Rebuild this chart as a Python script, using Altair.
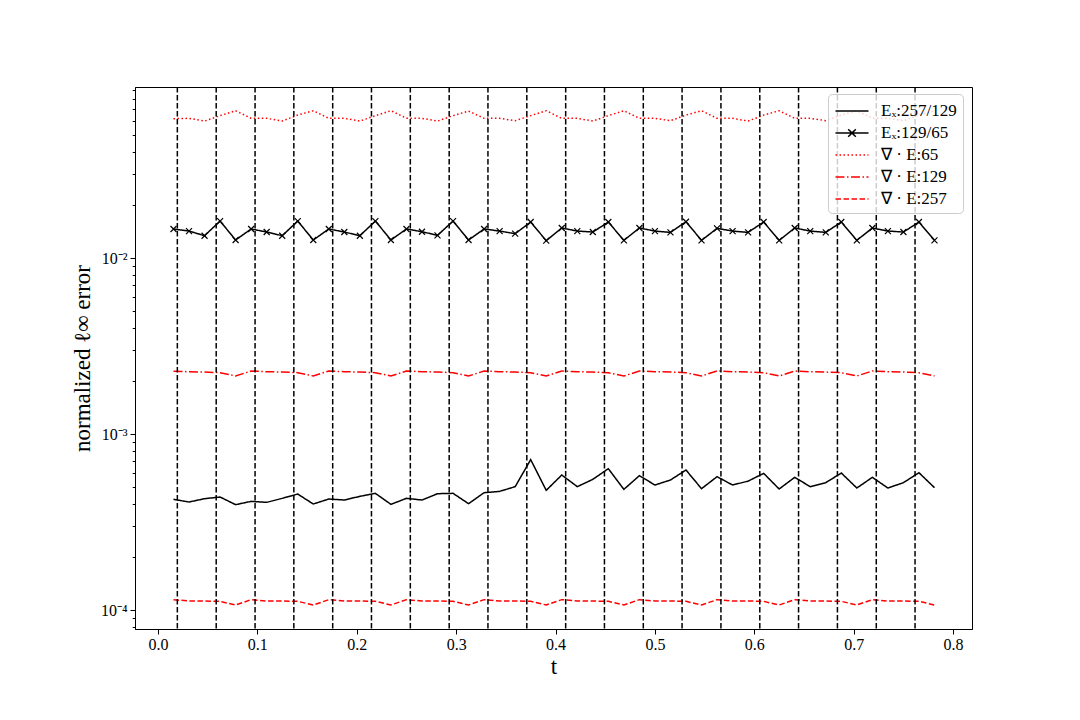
import altair as alt
import pandas as pd

FONT = "Liberation Serif"

# time samples
t = [0.015625, 0.03125, 0.046875, 0.0625, 0.078125, 0.09375, 0.109375, 0.125, 0.140625, 0.15625,
     0.171875, 0.1875, 0.203125, 0.21875, 0.234375, 0.25, 0.265625, 0.28125, 0.296875, 0.3125,
     0.328125, 0.34375, 0.359375, 0.375, 0.390625, 0.40625, 0.421875, 0.4375, 0.453125, 0.46875,
     0.484375, 0.5, 0.515625, 0.53125, 0.546875, 0.5625, 0.578125, 0.59375, 0.609375, 0.625,
     0.640625, 0.65625, 0.671875, 0.6875, 0.703125, 0.71875, 0.734375, 0.75, 0.765625, 0.78125]

ex_257_129 = [0.0004254, 0.0004108, 0.0004291, 0.0004385, 0.0003967,
              0.0004144, 0.0004090, 0.0004309, 0.0004560, 0.0004002,
              0.0004272, 0.0004217, 0.0004424, 0.0004601, 0.0003985,
              0.0004309, 0.0004217, 0.0004581, 0.0004601, 0.0004019,
              0.0004641, 0.0004722, 0.0005021, 0.0007150, 0.0004785,
              0.0005848, 0.0005021, 0.0005526, 0.0006353, 0.0004848,
              0.0005799, 0.0005131, 0.0005479, 0.0006243, 0.0004891,
              0.0005723, 0.0005131, 0.0005400, 0.0005977, 0.0004870,
              0.0005673, 0.0005021, 0.0005291, 0.0006003, 0.0004934,
              0.0005673, 0.0004934, 0.0005291, 0.0006029, 0.0004955]

ex_129_65 = [0.01462, 0.01423, 0.01339, 0.01622, 0.01266,
             0.01462, 0.01405, 0.01339, 0.01622, 0.01266,
             0.01462, 0.01405, 0.01339, 0.01622, 0.01266,
             0.01462, 0.01411, 0.01345, 0.01622, 0.01266,
             0.01462, 0.01423, 0.01375, 0.01601, 0.01255,
             0.01481, 0.01423, 0.01405, 0.01601, 0.01260,
             0.01481, 0.01423, 0.01399, 0.01608, 0.01260,
             0.01474, 0.01423, 0.01399, 0.01601, 0.01260,
             0.01481, 0.01423, 0.01399, 0.01601, 0.01260,
             0.01481, 0.01423, 0.01405, 0.01601, 0.01260]

div_65 = [0.0619, 0.0622, 0.0600, 0.0644, 0.0687,
          0.0622, 0.0622, 0.0600, 0.0649, 0.0687,
          0.0622, 0.0622, 0.0600, 0.0644, 0.0687,
          0.0622, 0.0622, 0.0600, 0.0644, 0.0684,
          0.0622, 0.0622, 0.0603, 0.0644, 0.0687,
          0.0622, 0.0622, 0.0600, 0.0644, 0.0687,
          0.0622, 0.0622, 0.0603, 0.0649, 0.0687,
          0.0622, 0.0622, 0.0600, 0.0649, 0.0687,
          0.0622, 0.0622, 0.0603, 0.0649, 0.0687,
          0.0622, 0.0622, 0.0603, 0.0649, 0.0687]

div_129 = [0.002270, 0.002260, 0.002250, 0.002231, 0.002136,
           0.002280, 0.002260, 0.002250, 0.002231, 0.002136,
           0.002280, 0.002260, 0.002250, 0.002231, 0.002136,
           0.002280, 0.002260, 0.002250, 0.002231, 0.002136,
           0.002280, 0.002260, 0.002250, 0.002231, 0.002136,
           0.002280, 0.002260, 0.002250, 0.002231, 0.002136,
           0.002280, 0.002260, 0.002250, 0.002231, 0.002136,
           0.002280, 0.002260, 0.002250, 0.002231, 0.002136,
           0.002280, 0.002260, 0.002250, 0.002231, 0.002136,
           0.002280, 0.002260, 0.002250, 0.002231, 0.002136]

div_257 = [0.0001145, 0.0001125, 0.0001125, 0.0001120, 0.0001068,
           0.0001145, 0.0001125, 0.0001125, 0.0001120, 0.0001068,
           0.0001145, 0.0001125, 0.0001125, 0.0001120, 0.0001068,
           0.0001145, 0.0001125, 0.0001125, 0.0001120, 0.0001068,
           0.0001145, 0.0001125, 0.0001125, 0.0001120, 0.0001068,
           0.0001145, 0.0001125, 0.0001125, 0.0001120, 0.0001068,
           0.0001145, 0.0001125, 0.0001125, 0.0001120, 0.0001068,
           0.0001145, 0.0001125, 0.0001125, 0.0001120, 0.0001068,
           0.0001145, 0.0001125, 0.0001125, 0.0001120, 0.0001068,
           0.0001145, 0.0001125, 0.0001125, 0.0001120, 0.0001068]

vlines_t = [0.0195, 0.0586, 0.0977, 0.1367, 0.1758, 0.2148, 0.2539, 0.2930, 0.3320, 0.3711,
            0.4102, 0.4492, 0.4883, 0.5273, 0.5664, 0.6055, 0.6445, 0.6836, 0.7227, 0.7617]

series_names = ["Eₓ:257/129", "Eₓ:129/65", "∇ · E:65", "∇ · E:129", "∇ · E:257"]
series_colors = ["#000000", "#000000", "#ff0000", "#ff0000", "#ff0000"]
series_dashes = [[1, 0], [1, 0], [1.5, 2.5], [9, 2.5, 1.5, 2.5], [5.5, 2.5]]
series_values = [ex_257_129, ex_129_65, div_65, div_129, div_257]
marker_series = "Eₓ:129/65"

x_ticks = [0.0, 0.1, 0.2, 0.3, 0.4, 0.5, 0.6, 0.7, 0.8]
x_domain = [-0.0231, 0.819]
y_domain = [7.8e-5, 0.0937]
y_major = [0.0001, 0.001, 0.01]
y_major_labels = ["10⁻⁴", "10⁻³", "10⁻²"]
y_minor = [8e-5, 9e-5,
           0.0002, 0.0003, 0.0004, 0.0005, 0.0006, 0.0007, 0.0008, 0.0009,
           0.002, 0.003, 0.004, 0.005, 0.006, 0.007, 0.008, 0.009,
           0.02, 0.03, 0.04, 0.05, 0.06, 0.07, 0.08, 0.09]

rows = []
for name, vals in zip(series_names, series_values):
    for ti, v in zip(t, vals):
        rows.append({"t": ti, "err": v, "series": name})
df = pd.DataFrame(rows)
df_markers = df[df["series"] == marker_series]
df_vlines = pd.DataFrame({"t": vlines_t})

major_test = " || ".join(f"datum.value == {v}" for v in y_major)
label_expr = " : ".join(f"datum.value == {v} ? '{l}'" for v, l in zip(y_major, y_major_labels)) + " : ''"

x_scale = alt.Scale(domain=x_domain, nice=False, zero=False)
y_scale = alt.Scale(type="log", domain=y_domain, nice=False)

x_axis = alt.Axis(values=x_ticks, format=".1f", title="t", grid=False, tickSize=5,
                  labelFlush=False, labelPadding=2, titleFontSize=23, titleFont=FONT,
                  titleFontWeight="normal", titleY=37, titleBaseline="middle")
y_axis = alt.Axis(values=sorted(y_major + y_minor), labelExpr=label_expr, title="normalized ℓ∞ error",
                  grid=False, labelOverlap=False, labelFlush=False, labelPadding=3,
                  tickSize={"condition": {"test": major_test, "value": 5}, "value": 2.8},
                  titleFontSize=23, titleFont=FONT, titleFontWeight="normal",
                  titleX=-53, titleY=271, titleAngle=-90, titleBaseline="middle", titleAlign="center")

line_path = "M-1.65,0H1.65"
cross_path = "M-1.65,0H1.65M-0.38,-0.38L0.38,0.38M-0.38,0.38L0.38,-0.38"
legend_shapes = [line_path, cross_path, line_path, line_path, line_path]

legend = alt.Legend(title=None, orient="none", legendX=693, legendY=7, padding=6,
                    fillColor="rgba(255,255,255,0.8)", strokeColor="#cccccc", cornerRadius=4,
                    labelFont=FONT, labelFontSize=17, labelColor="black", labelLimit=400,
                    symbolSize=400, symbolStrokeWidth=1.5, symbolOffset=7, labelOffset=18,
                    rowPadding=3, symbolOpacity=1)

color_scale = alt.Scale(domain=series_names, range=series_colors)
dash_scale = alt.Scale(domain=series_names, range=series_dashes)

# invisible layer that carries the legend (line + marker symbols); first so its legend wins
legend_layer = alt.Chart(df).mark_point(filled=False, opacity=0, strokeWidth=1.5).encode(
    x=alt.X("t:Q", scale=x_scale),
    y=alt.Y("err:Q", scale=y_scale),
    color=alt.Color("series:N", scale=color_scale, legend=legend),
    strokeDash=alt.StrokeDash("series:N", scale=dash_scale, legend=legend),
    shape=alt.Shape("series:N", scale=alt.Scale(domain=series_names, range=legend_shapes), legend=legend),
)

lines = alt.Chart(df).mark_line(strokeWidth=1.5).encode(
    x=alt.X("t:Q", scale=x_scale, axis=x_axis),
    y=alt.Y("err:Q", scale=y_scale, axis=y_axis),
    color=alt.Color("series:N", scale=color_scale, legend=None),
    strokeDash=alt.StrokeDash("series:N", scale=dash_scale, legend=None),
)

markers = alt.Chart(df_markers).mark_point(
    shape="M-1,-1L1,1M-1,1L1,-1", size=36, filled=False, color="black", strokeWidth=1.2, opacity=1
).encode(
    x=alt.X("t:Q", scale=x_scale),
    y=alt.Y("err:Q", scale=y_scale),
)

vlines = alt.Chart(df_vlines).mark_rule(color="black", strokeWidth=1.5, strokeDash=[5.5, 2.5]).encode(
    x=alt.X("t:Q", scale=x_scale),
)

chart = alt.layer(legend_layer, lines, markers, vlines).properties(
    width=837, height=542,
    padding={"left": 127, "top": 79, "right": 90, "bottom": 75},
    autosize=alt.AutoSizeParams(type="none"),
    background="white",
).configure_view(
    stroke="black", strokeWidth=1
).configure_axis(
    labelFont=FONT, labelFontSize=16, labelColor="black", domainColor="black",
    tickColor="black", titleColor="black", domainWidth=1, tickWidth=1
)

chart.save("out.html", embed_options={"renderer": "svg", "actions": False})
